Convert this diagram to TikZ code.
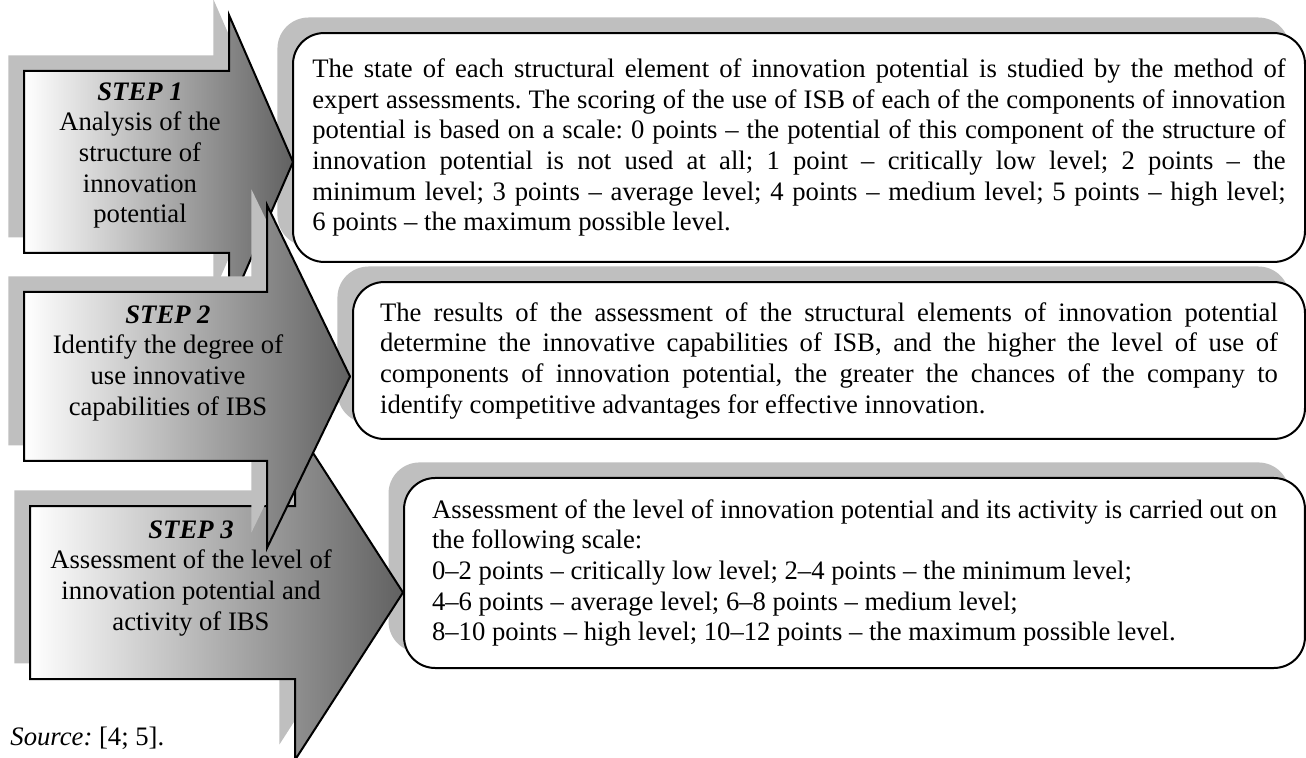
\documentclass[tikz,border=0pt]{standalone}
\usepackage{fontspec}
\setmainfont{Liberation Serif}
\usetikzlibrary{shadows}
\tolerance=9999
\hyphenpenalty=10000
\frenchspacing

\begin{document}
\begin{tikzpicture}[x=0.45pt,y=-0.45pt]
\tikzset{shadowed/.style = {general shadow={fill=black!25, shadow xshift=-7pt, shadow yshift=7pt}}}
\tikzset{stepbody/.style = {shadowed, draw, line width=0.9pt, left color=white, right color=black!62}}
\tikzset{steplabel/.style = {anchor=north, inner sep=0pt, align=center, font=\fontsize{12}{13.8}\selectfont}}
\tikzset{descbox/.style = {shadowed, draw, fill=white, line width=0.9pt, rounded corners=14pt, inner sep=0pt, font=\fontsize{12}{13.8}\selectfont}}
\useasboundingbox (0,0) rectangle (1306,758);

% description boxes
\node[descbox, minimum width=455.4pt, minimum height=103pt, text width=438pt, align=justify] (box1) at (799,147.5)
  {The state of each structural element of innovation potential is studied by the method of\linebreak
   expert assessments. The scoring of the use of ISB of each of the components of innovation\linebreak
   potential is based on a scale: 0 points – the potential of this component of the structure of\linebreak
   innovation potential is not used at all; 1 point – critically low level; 2 points – the\linebreak
   minimum level; 3 points – average level; 4 points – medium level; 5 points – high level;\linebreak
   6 points – the maximum possible level.};
\node[descbox, minimum width=428.4pt, minimum height=70.6pt, text width=404pt, align=justify] (box2) at (829,360.5)
  {The results of the assessment of the structural elements of innovation potential\linebreak
   determine the innovative capabilities of ISB, and the higher the level of use of\linebreak
   components of innovation potential, the greater the chances of the company to\linebreak
   identify competitive advantages for effective innovation.};
\node[descbox, minimum width=405.4pt, minimum height=85.5pt, align=left] (box3) at (854.5,573)
  {Assessment of the level of innovation potential and its activity is carried out on\\
   the following scale:\\
   0–2 points – critically low level; 2–4 points – the minimum level;\\
   4–6 points – average level; 6–8 points – medium level;\\
   8–10 points – high level; 10–12 points – the maximum possible level.};

% step arrows
\draw[stepbody] (24,71) -- (229,71) -- (229,15) -- (293,162) -- (229,309) -- (229,253) -- (24,253) -- cycle;
\draw[stepbody] (30,506) -- (295,506) -- (295,425) -- (403,592.5) -- (295,760) -- (295,679) -- (30,679) -- cycle;
\draw[stepbody] (24,292) -- (267,292) -- (267,205) -- (350,376.5) -- (267,548) -- (267,461) -- (24,461) -- cycle;

\node[steplabel] (step1) at (140,82) {\textbf{\textit{STEP 1}}\\ Analysis of the\\ structure of\\ innovation\\ potential};
\node[steplabel] (step2) at (168,305) {\textbf{\textit{STEP 2}}\\ Identify the degree of\\ use innovative\\ capabilities of IBS};
\node[steplabel] (step3) at (191,520) {\textbf{\textit{STEP 3}}\\ Assessment of the level of\\ innovation potential and\\ activity of IBS};

\node[anchor=base west, inner sep=0pt, font=\fontsize{12}{13.8}\selectfont] (source) at (10,745) {\textit{Source:} [4; 5].};
\end{tikzpicture}
\end{document}
